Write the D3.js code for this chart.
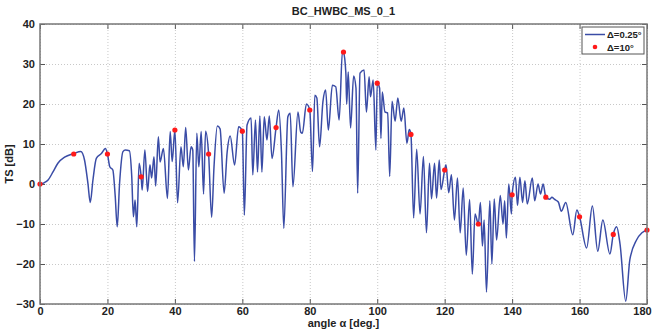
<!DOCTYPE html>
<html>
<head>
<meta charset="utf-8">
<script src="https://cdn.jsdelivr.net/npm/d3@7"></script>
<style>
  body { margin: 0; background: #fff; }
  svg text { font-family: "Liberation Sans", Arial, sans-serif; font-weight: bold; fill: #222; }
  .grid line { stroke: #c8c8c8; stroke-dasharray: 1,2; }
  .grid path { display: none; }
</style>
</head>
<body>
<svg id="chart"></svg>
<script>
// Δ=0.25° series (angle in deg, TS in dB)
const fineAngle = [
  0, 1.2, 2.4, 3.9, 5.3, 7.3, 10, 12.1, 13.2, 14.2, 14.9, 15.7, 16.7, 18.2, 19.4, 20,
  20.7, 21.6, 22.3, 22.9, 23.6, 24.6, 25.3, 26.5, 27.2, 27.7, 28.2, 28.7, 29.4, 30,
  30.3, 31.1, 31.9, 32.6, 33.1, 33.8, 34.3, 35.1, 35.6, 36.6, 37.8, 38.6, 39.2, 40,
  40.8, 41.8, 42.5, 43.2, 44, 44.8, 45.3, 45.8, 46.5, 47.1, 47.8, 48.5, 49.1, 50,
  50.9, 51.6, 52.6, 53.4, 54.6, 55.5, 56.4, 57.7, 58.9, 60, 60.6, 61.4, 62.6, 63.1,
  63.9, 64.5, 65.2, 65.8, 66.5, 67.3, 68, 68.8, 70, 70.8, 71.6, 72.3, 73.5, 74.2,
  75, 76.5, 77.3, 77.8, 79, 80, 80.8, 81.5, 82.1, 82.9, 83.9, 84.7, 85.5, 86.7,
  87.7, 88.7, 89.7, 90, 90.7, 90.95, 91.4, 92.1, 93, 93.7, 94.2, 94.9, 96.1, 96.8,
  97.6, 98, 98.8, 99.6, 100, 100.7, 101.1, 101.5, 102.3, 103.1, 103.7, 104.4, 105.3,
  106.1, 107.1, 107.9, 108.8, 109.5, 110, 110.8, 111.7, 112.7, 113.7, 114.6, 115.5,
  116.1, 117, 117.6, 118.4, 118.9, 120, 120.4, 121.2, 122, 122.9, 123.8, 124.6,
  125.5, 126.4, 127.4, 128.2, 129, 130, 130.6, 131.2, 131.7, 132.4, 133.4, 134,
  134.7, 135.4, 136.5, 137.3, 137.8, 138.3, 139, 139.8, 140, 141, 141.6, 142.3,
  143.1, 143.8, 144.5, 146, 146.7, 147.7, 148.4, 149.2, 150, 151.2, 151.8, 152.5,
  153.7, 154.6, 155.9, 158, 159.2, 160, 162.1, 163.8, 165.4, 166.9, 169, 170, 171,
  172, 173.7, 174.9, 176.9, 178.5, 180
];
const fineTS = [
  0, 0.3, 1, 3.1, 5.2, 6.7, 7.6, 8.1, 6, 0.2, -4.6, 1, 6.4, 7.6, 8.9, 7.5,
  4.3, 3.5, -3, -10.7, 0.2, 8.1, 8.5, 8.3, 2, -8.2, -4, -10.7, 5.2, 1.8,
  -1.5, 8.5, -1.9, 4.8, 1.5, 6.8, -0.5, 11.8, 5.5, 8.9, -3.6, 13.1, 5.6, 13.5,
  -4.7, 9.3, 4.3, 14.1, 3.5, 9.3, 8.5, -19.4, 12.7, 4.3, 13.1, -2.5, 13.2, 7.5,
  -8.3, 4.3, 14.5, 13.8, -2.3, 8, 12, 4.75, 14.3, 13.2, -7.8, 14.75, 16.5, 2.3,
  16, 3, 17, 3, 16.8, 11, 17, 6.4, 14.1, 18.5, 8, -11.1, 16.8, 17.7,
  -0.7, 18, 13, 12.7, 20, 18.5, 3.1, 22.2, 21.5, 9.3, 20.6, 23.5, 13.5, 24.7,
  24.3, 16, 33.3, 33, 27.7, 20, 28, 14, 27, 24, -2.3, 27.7, 28.5, 18,
  26.8, 21.8, 26, 8.5, 25.2, 24, 11.4, 23, 18, 17.8, 1.9, 20.7, 15.7,
  21.5, 15.7, 19, 10.2, 13.6, 12.4, -8.5, 8.7, -7.5, 6.9, -12.2, 5.2,
  -3.7, 5.2, -3.5, 6, -1.4, 3.5, 4.8, -2.2, 2.3, -9, 1.5, -12.2,
  -1, -17.8, -3.9, -22.5, -7.5, -10, -4.6, -15.5, -9, -27, -4.2, -20,
  -3.75, -14, -2.9, -10, -4.2, -13.5, 0, -7.5, -2.7, 1.7, -5.4, 1.7,
  -4.6, 0.8, -5, 1.5, -4.2, 0, -2.5, 0, -3.3, -3.8, -3.3, -3.8,
  -4.5, -6.8, -4.6, -12.7, -6.5, -8.2, -16, -5.5, -16.8, -9, -17.5, -12.6, -10.7,
  -15, -29.3, -19, -14, -12.2, -11.5
];

// Δ=10° series
const coarseAngle = [0, 10, 20, 30, 40, 50, 60, 70, 80, 90, 100, 110, 120, 130, 140, 150, 160, 170, 180];
const coarseTS = [0, 7.5, 7.5, 1.8, 13.5, 7.5, 13.2, 14.1, 18.5, 33, 25.2, 12.4, 3.5, -10, -2.7, -3.3, -8.2, -12.6, -11.5];

const xTicks = [0, 20, 40, 60, 80, 100, 120, 140, 160, 180];
const yTicks = [-30, -20, -10, 0, 10, 20, 30, 40];
const seriesNames = ['Δ=0.25°', 'Δ=10°'];

// Layout
const W = 653;
const H = 329;
const M = { top: 24, right: 6, bottom: 25, left: 40 };
const innerW = W - M.left - M.right;
const innerH = H - M.top - M.bottom;

const svg = d3.select('#chart').attr('width', W).attr('height', H);
const g = svg.append('g').attr('transform', `translate(${M.left},${M.top})`);

const x = d3.scaleLinear([0, 180], [0, innerW]);
const y = d3.scaleLinear([-30, 40], [innerH, 0]);

// Grid
g.append('g')
  .attr('class', 'grid')
  .attr('transform', `translate(0,${innerH})`)
  .call(d3.axisBottom(x).tickValues(xTicks).tickSize(-innerH).tickFormat(''));
g.append('g')
  .attr('class', 'grid')
  .call(d3.axisLeft(y).tickValues(yTicks).tickSize(-innerW).tickFormat(''));

// Axes (MATLAB style: ticks pointing inward on all sides)
const styleAxis = (sel) => {
  sel.select('.domain').remove();
  sel.selectAll('.tick line').attr('stroke', '#555').attr('stroke-width', 1);
  sel.selectAll('.tick text').attr('font-size', 11).attr('fill', '#222');
};
const xAxisG = g.append('g')
  .attr('transform', `translate(0,${innerH})`)
  .call(d3.axisBottom(x).tickValues(xTicks).tickSize(-5).tickPadding(3))
  .call(styleAxis);
// keep the last label inside the window
xAxisG.selectAll('.tick text').filter((d) => d === 180).attr('dx', -5);
g.append('g')
  .call(d3.axisTop(x).tickValues(xTicks).tickSize(-5).tickFormat(''))
  .call(styleAxis);
g.append('g')
  .call(d3.axisLeft(y).tickValues(yTicks).tickSize(-5).tickPadding(5))
  .call(styleAxis);
g.append('g')
  .attr('transform', `translate(${innerW},0)`)
  .call(d3.axisRight(y).tickValues(yTicks).tickSize(-5).tickFormat(''))
  .call(styleAxis);

// Fine series
const fine = fineAngle.map((a, i) => [a, fineTS[i]]);
g.append('path')
  .datum(fine)
  .attr('fill', 'none')
  .attr('stroke', '#3a4ca6')
  .attr('stroke-width', 1.5)
  .attr('stroke-linejoin', 'round')
  .attr('d', d3.line().x((d) => x(d[0])).y((d) => y(d[1])).curve(d3.curveMonotoneX));

// Coarse series
const coarse = coarseAngle.map((a, i) => [a, coarseTS[i]]);
g.selectAll('circle.pt')
  .data(coarse)
  .enter()
  .append('circle')
  .attr('class', 'pt')
  .attr('cx', (d) => x(d[0]))
  .attr('cy', (d) => y(d[1]))
  .attr('r', 2.6)
  .attr('fill', '#ff1a1a');

// Box
g.append('rect')
  .attr('width', innerW)
  .attr('height', innerH)
  .attr('fill', 'none')
  .attr('stroke', '#777')
  .attr('stroke-width', 1.5);

// Title and labels
svg.append('text')
  .attr('x', M.left + innerW / 2)
  .attr('y', 15)
  .attr('text-anchor', 'middle')
  .attr('font-size', 11)
  .text('BC_HWBC_MS_0_1');
svg.append('text')
  .attr('x', M.left + innerW / 2)
  .attr('y', 327)
  .attr('text-anchor', 'middle')
  .attr('font-size', 11)
  .text('angle α [deg.]');
svg.append('text')
  .attr('transform', `translate(13,${M.top + innerH / 2}) rotate(-90)`)
  .attr('text-anchor', 'middle')
  .attr('font-size', 11)
  .text('TS [dB]');

// Legend
const lg = svg.append('g').attr('transform', 'translate(582,27)');
lg.append('rect')
  .attr('width', 62)
  .attr('height', 27)
  .attr('fill', '#fff')
  .attr('stroke', '#555')
  .attr('stroke-width', 1);
lg.append('line')
  .attr('x1', 3).attr('x2', 23).attr('y1', 7.5).attr('y2', 7.5)
  .attr('stroke', '#3a4ca6').attr('stroke-width', 1.5);
lg.append('circle').attr('cx', 13).attr('cy', 20).attr('r', 2.3).attr('fill', '#ff1a1a');
lg.selectAll('text.lbl')
  .data(seriesNames)
  .enter()
  .append('text')
  .attr('class', 'lbl')
  .attr('x', 25)
  .attr('y', (d, i) => 11 + i * 12.5)
  .attr('font-size', 9.5)
  .text((d) => d);
</script>
</body>
</html>
